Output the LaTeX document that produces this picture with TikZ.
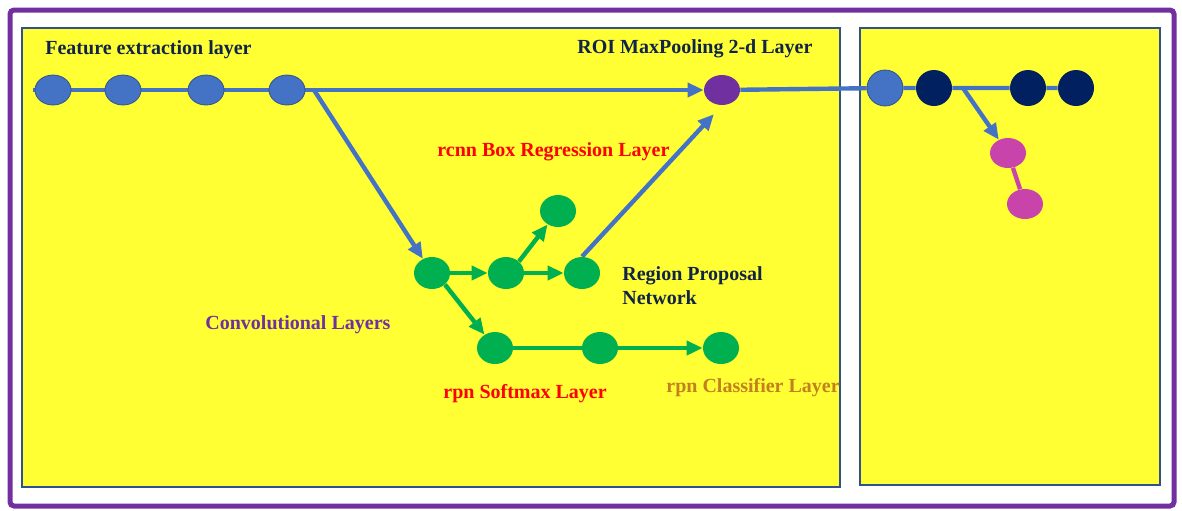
\documentclass[tikz,border=0pt]{standalone}
\usepackage{fontspec}
\setmainfont{Liberation Serif}
\usetikzlibrary{arrows.meta, backgrounds, shapes.geometric}
\definecolor{framepurple}{RGB}{112,48,160}
\definecolor{panelyellow}{RGB}{255,255,51}
\definecolor{boxedge}{RGB}{47,82,143}
\definecolor{featblue}{RGB}{68,114,196}
\definecolor{deepnavy}{RGB}{0,32,96}
\definecolor{rpngreen}{RGB}{0,176,80}
\definecolor{poolpink}{RGB}{200,68,170}
\definecolor{labelnavy}{RGB}{16,36,72}
\definecolor{clsbrown}{RGB}{196,128,30}

\begin{document}
\begin{tikzpicture}[
    x=0.5pt, y=-0.5pt,
    font=\bfseries\fontsize{10}{12}\selectfont,
    >={Triangle[length=8pt,width=7pt]},
    unit/.style={ellipse, minimum width=18pt, minimum height=15pt, inner sep=0pt},
    featunit/.style={unit, fill=featblue, draw=boxedge, thin},
    navyunit/.style={unit, fill=deepnavy, minimum height=18pt},
    greenunit/.style={unit, fill=rpngreen, minimum height=16pt},
    pinkunit/.style={unit, fill=poolpink},
    poolunit/.style={unit, fill=framepurple},
    panel/.style={draw=boxedge, line width=1pt, fill=panelyellow},
    link/.style={draw=featblue, line width=2.2pt},
    greenlink/.style={draw=rpngreen, line width=2.2pt},
    pinklink/.style={draw=poolpink, line width=2.2pt},
    lbl/.style={inner sep=0pt, anchor=west, text=labelnavy},
    redlbl/.style={lbl, text=red},
]
\useasboundingbox (0,0) rectangle (1182,510);

% -------------------------------------------------------------- panels ---
\begin{scope}[on background layer]
  \draw[framepurple, line width=2.5pt, rounded corners=2pt] (10,10) rectangle (1174,506);
  \draw[panel] (22,28) rectangle (840,487);
  \draw[panel] (860,28) rectangle (1160,485);
\end{scope}

% ------------------------------------------------- feature extraction ---
\coordinate (lead) at (33,90);
\node[featunit] (f1) at (53,90) {};
\node[featunit] (f2) at (123,90) {};
\node[featunit] (f3) at (206,90) {};
\node[featunit] (f4) at (287,90) {};
\coordinate (split) at (314,90);
\node[lbl] (featlbl) at (45,50) {Feature extraction layer};

\node[poolunit] (roi) at (722,90) {};
\node[lbl] (roilbl) at (577,49) {ROI MaxPooling 2-d Layer};

% ---------------------------------------------------------------- rpn ---
\node[greenunit] (c1) at (432,273) {};
\node[greenunit] (g2) at (506,273) {};
\node[greenunit] (g3) at (582,273) {};
\node[greenunit] (gtop) at (558,211) {};
\node[greenunit] (s1) at (495,348) {};
\node[greenunit] (s2) at (600,348) {};
\node[greenunit] (s3) at (721,348) {};

\node[redlbl] (boxlbl) at (437,152) {rcnn Box Regression Layer};
\node[lbl, align=left] (rpnlbl) at (622,286) {Region Proposal\\Network};
\node[lbl, text=framepurple] (convlbl) at (205,325) {Convolutional Layers};
\node[redlbl] (softlbl) at (443,394) {rpn Softmax Layer};
\node[lbl, text=clsbrown] (clslbl) at (666,388) {rpn Classifier Layer};

% -------------------------------------------------------- right panel ---
\node[featunit, minimum height=18pt] (r1) at (885,88) {};
\node[navyunit] (n1) at (934,88) {};
\node[navyunit] (n3) at (1028,88) {};
\node[navyunit] (n4) at (1076,88) {};
\coordinate (fork) at (963,88);
\node[pinkunit] (m1) at (1008,153) {};
\node[pinkunit] (m2) at (1025,204) {};

% --------------------------------------------------------- connectors ---
\begin{scope}[on background layer]
  \draw[link] (lead) -- (f1) -- (f2) -- (f3) -- (f4);
  \draw[link, ->] (f4) -- (roi);
  \draw[link, ->] (split) -- (c1);
  \draw[link, ->, shorten >=6pt] (g3.north) -- (roi.south);
  \draw[link] (roi) -- (r1) -- (n1) -- (n3) -- (n4);
  \draw[link, ->] (fork) -- (m1);
  \draw[pinklink] (m1) -- (m2);

  \draw[greenlink, ->] (c1) -- (g2);
  \draw[greenlink, ->] (g2) -- (g3);
  \draw[greenlink, ->] (g2.north east) -- (gtop);
  \draw[greenlink, ->] (c1.south east) -- (s1);
  \draw[greenlink] (s1) -- (s2);
  \draw[greenlink, ->] (s2) -- (s3);
\end{scope}

\end{tikzpicture}
\end{document}
